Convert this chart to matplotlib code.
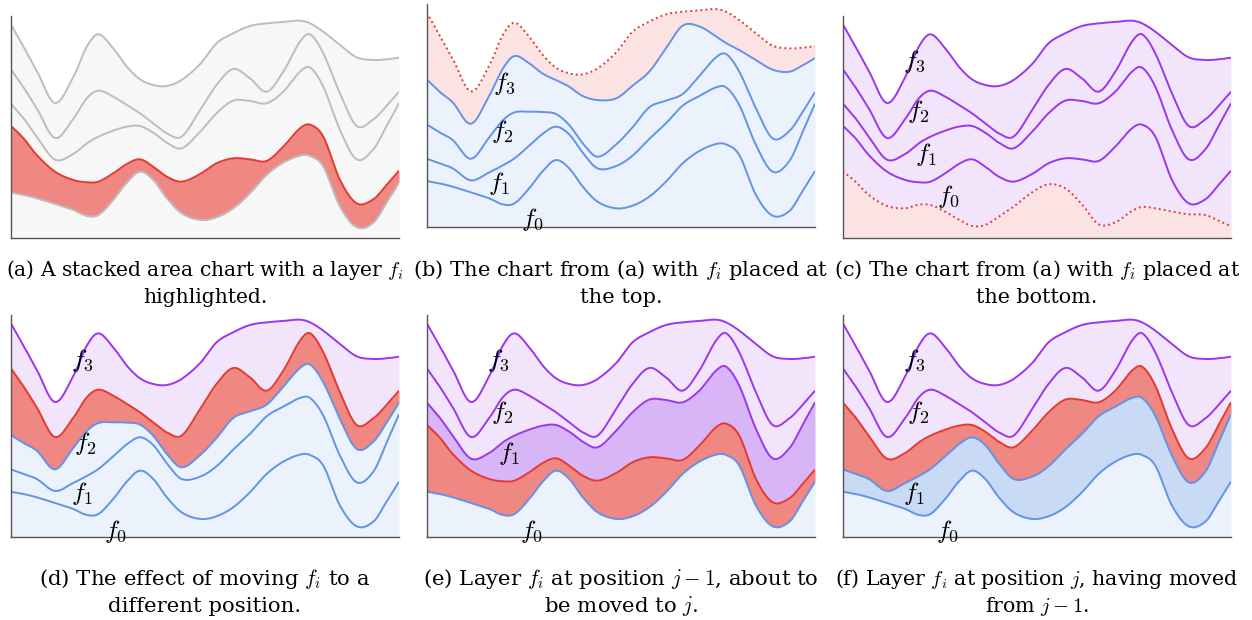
import numpy as np
import matplotlib
matplotlib.use('Agg')
import matplotlib.pyplot as plt

plt.rcParams['mathtext.fontset'] = 'cm'
plt.rcParams['font.family'] = ['DejaVu Serif']

# ---- data (layer thicknesses) ----
x_pos = [0, 3.3, 6.7, 11.4, 16.1, 19.6, 22.6, 26.4, 29.9, 33.3, 36.7, 40.2, 44.0,
         48.8, 53.0, 57.3, 61.6, 65.9, 70.2, 74.5, 77.1, 80.5, 84.8, 89.1, 93.4, 96.8, 100]
f0 = [137, 130, 120, 103, 85, 67, 70, 115, 167, 200, 175, 120, 75,
      55, 63, 90, 135, 190, 227, 248, 247, 215, 95, 33, 47, 107, 167]
fi = [201, 170, 130, 97, 90, 101, 100, 80, 56, 37, 40, 65, 95,
      138, 162, 150, 102, 42, 48, 82, 94, 90, 80, 72, 70, 53, 36]
f1 = [67, 60, 55, 36, 78, 117, 135, 128, 112, 100, 102, 102, 100,
      127, 150, 173, 175, 173, 165, 170, 171, 150, 150, 132, 150, 177, 202]
f2 = [103, 93, 85, 65, 105, 135, 138, 102, 65, 38, 28, 28, 35,
      65, 85, 95, 68, 35, 60, 90, 100, 100, 110, 100, 90, 60, 35]
f3 = [135, 122, 113, 105, 125, 155, 169, 145, 115, 102, 115, 142, 170,
      138, 125, 107, 157, 205, 149, 63, 33, 65, 145, 206, 178, 140, 102]

captions = [
    ["(a) A stacked area chart with a layer $f_i$", "highlighted."],
    ["(b) The chart from (a) with $f_i$ placed at", "the top."],
    ["(c) The chart from (a) with $f_i$ placed at", "the bottom."],
    ["(d) The effect of moving $f_i$ to a", "different position."],
    ["(e) Layer $f_i$ at position $j-1$, about to", "be moved to $j$."],
    ["(f) Layer $f_i$ at position $j$, having moved", "from $j-1$."],
]
layer_labels = ["$f_0$", "$f_1$", "$f_2$", "$f_3$"]

# ---- styles ----
GRAY_F, GRAY_L = '#f7f7f7', '#bdbdbd'
RED_F, RED_L = '#ef8783', '#e8372c'
PINK_F = '#fbe3e3'
BLUE_F, BLUE_M, BLUE_L = '#ebf2fc', '#c9daf4', '#6392e8'
PUR_F, PUR_M, PUR_L = '#f2e5fb', '#d8b5f7', '#9a36f0'
DOT = (0, (1, 1.6))
CAP_SIZES = [14.6, 15.1, 14.9, 15.3, 15.3, 14.8]

x = np.array(x_pos, float)


def smooth(xv, yv, n=600):
    yv = np.asarray(yv, float)
    m = np.zeros_like(yv)
    m[1:-1] = (yv[2:] - yv[:-2]) / (xv[2:] - xv[:-2])
    m[0] = (yv[1] - yv[0]) / (xv[1] - xv[0])
    m[-1] = (yv[-1] - yv[-2]) / (xv[-1] - xv[-2])
    xs = np.linspace(xv[0], xv[-1], n)
    k = np.clip(np.searchsorted(xv, xs, side='right') - 1, 0, len(xv) - 2)
    h = xv[k + 1] - xv[k]
    t = (xs - xv[k]) / h
    h00 = 2 * t**3 - 3 * t**2 + 1
    h10 = t**3 - 2 * t**2 + t
    h01 = -2 * t**3 + 3 * t**2
    h11 = t**3 - t**2
    ys = h00 * yv[k] + h10 * h * m[k] + h01 * yv[k + 1] + h11 * h * m[k + 1]
    return xs, ys


panels = [
    dict(pos=(10.7, 238.3), layers=[(f0, GRAY_F, GRAY_L, '-'), (fi, RED_F, RED_L, '-'),
                                    (f1, GRAY_F, GRAY_L, '-'), (f2, GRAY_F, GRAY_L, '-'),
                                    (f3, GRAY_F, GRAY_L, '-')], labels=None),
    dict(pos=(426.7, 226.7), layers=[(f0, BLUE_F, BLUE_L, '-'), (f1, BLUE_F, BLUE_L, '-'),
                                     (f2, BLUE_F, BLUE_L, '-'), (f3, BLUE_F, BLUE_L, '-'),
                                     (fi, PINK_F, RED_L, DOT)],
         labels=[(27.3, 20), (18.7, 130), (19.4, 285), (20.0, 430)]),
    dict(pos=(842.7, 238.3), layers=[(fi, PINK_F, RED_L, DOT), (f0, PUR_F, PUR_L, '-'),
                                     (f1, PUR_F, PUR_L, '-'), (f2, PUR_F, PUR_L, '-'),
                                     (f3, PUR_F, PUR_L, '-')],
         labels=[(27.3, 125), (21.5, 250), (19.4, 380), (18.5, 530)]),
    dict(pos=(10.7, 537.3), layers=[(f0, BLUE_F, BLUE_L, '-'), (f1, BLUE_F, BLUE_L, '-'),
                                    (f2, BLUE_F, BLUE_L, '-'), (fi, RED_F, RED_L, '-'),
                                    (f3, PUR_F, PUR_L, '-')],
         labels=[(27.1, 17), (18.3, 132), (19.1, 282), (18.5, 529)]),
    dict(pos=(426.7, 537.3), layers=[(f0, BLUE_F, BLUE_L, '-'), (fi, RED_F, RED_L, '-'),
                                     (f1, PUR_M, PUR_L, '-'), (f2, PUR_F, PUR_L, '-'),
                                     (f3, PUR_F, PUR_L, '-')],
         labels=[(27.1, 17), (21.3, 252), (19.4, 375), (18.5, 529)]),
    dict(pos=(842.7, 537.3), layers=[(f0, BLUE_F, BLUE_L, '-'), (f1, BLUE_M, BLUE_L, '-'),
                                     (fi, RED_F, RED_L, '-'), (f2, PUR_F, PUR_L, '-'),
                                     (f3, PUR_F, PUR_L, '-')],
         labels=[(27.1, 17), (18.3, 132), (19.4, 375), (18.5, 529)]),
]

W, H = 1252, 620
fig = plt.figure(figsize=(W / 100, H / 100), dpi=100)
AX_W, AX_H = 388.3, 222.3
cap_base = [(276, 303), (276, 303), (276, 303), (585, 612), (585, 612), (585, 612)]

for idx, p in enumerate(panels):
    left, bottom = p['pos']
    ax = fig.add_axes([left / W, 1 - bottom / H, AX_W / W, AX_H / H])
    ax.set_xlim(0, 100)
    ax.set_ylim(0, 667)
    for s in ('top', 'right'):
        ax.spines[s].set_visible(False)
    for s in ('left', 'bottom'):
        ax.spines[s].set_color('#555555')
        ax.spines[s].set_linewidth(1.0)
        ax.spines[s].set_zorder(5)
    ax.set_xticks([])
    ax.set_yticks([])
    ax.patch.set_alpha(0)

    lower = None
    tops = []
    for vals, fc, lc, ls in p['layers']:
        xs, ys = smooth(x, vals)
        lo = np.zeros_like(ys) if lower is None else lower
        up = lo + ys
        ax.fill_between(xs, lo, up, color=fc, lw=0, zorder=1)
        tops.append((xs, up, lc, ls))
        lower = up
    for xs, up, lc, ls in tops:
        ax.plot(xs, up, color=lc, lw=1.4, ls=ls, zorder=3, solid_capstyle='butt')

    if p['labels']:
        for lab, (lx, ly) in zip(layer_labels, p['labels']):
            ax.text(lx, ly, lab, fontsize=18.5, ha='center', va='center', zorder=6,
                    clip_on=False)

    cx = (left + AX_W / 2) / W
    b1, b2 = cap_base[idx]
    fs = CAP_SIZES[idx]
    fig.text(cx, 1 - b1 / H, captions[idx][0], ha='center', va='baseline', fontsize=fs)
    fig.text(cx, 1 - b2 / H, captions[idx][1], ha='center', va='baseline', fontsize=fs)

fig.savefig('out.png', dpi=100)
